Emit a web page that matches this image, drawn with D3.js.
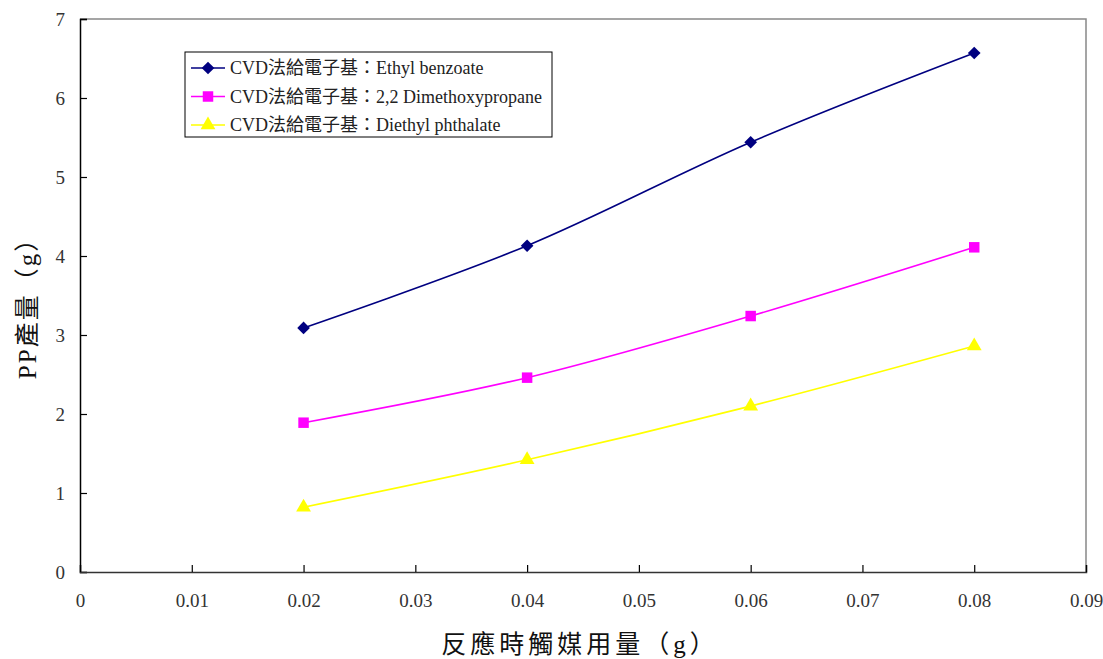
<!DOCTYPE html>
<html>
<head>
<meta charset="utf-8">
<script src="https://d3js.org/d3.v7.min.js"></script>
<style>
  html, body { margin: 0; padding: 0; background: #fff; }
  svg { display: block; }
  .serif { font-family: "Liberation Serif", "DejaVu Serif", "Noto Sans CJK TC", serif; }
</style>
</head>
<body>
<svg id="chart" width="1103" height="659"></svg>
<script>
// Catalyst amount (g)
const xValues = [0.02, 0.04, 0.06, 0.08];
// PP yield (g) for each electron donor
const ethylBenzoate = [3.09, 4.13, 5.44, 6.57];
const dimethoxypropane = [1.89, 2.46, 3.24, 4.11];
const diethylPhthalate = [0.82, 1.42, 2.10, 2.86];

const seriesNames = [
  "CVD法給電子基：Ethyl benzoate",
  "CVD法給電子基：2,2 Dimethoxypropane",
  "CVD法給電子基：Diethyl phthalate"
];
const xTicks = [0, 0.01, 0.02, 0.03, 0.04, 0.05, 0.06, 0.07, 0.08, 0.09];
const yTicks = [0, 1, 2, 3, 4, 5, 6, 7];
const xTitle = "反應時觸媒用量（g）";
const yTitle = "PP產量（g）";

const svg = d3.select("#chart");
const plotL = 80, plotR = 1086, plotT = 19, plotB = 572;

const x = d3.scaleLinear().domain([0, 0.09]).range([plotL, plotR]);
const y = d3.scaleLinear().domain([0, 7]).range([plotB, plotT]);

// Plot frame: grey top/right edges
svg.append("path")
  .attr("d", `M${plotL},${plotT}H${plotR}V${plotB}`)
  .attr("fill", "none").attr("stroke", "#888").attr("stroke-width", 1.5);

// Y axis with inward ticks
const yAxis = svg.append("g").attr("transform", `translate(${plotL},0)`)
  .call(d3.axisLeft(y).tickValues(yTicks).tickSize(-7).tickPadding(15).tickFormat(d3.format("d")));
yAxis.attr("font-family", null).attr("font-size", null);
yAxis.select(".domain").attr("stroke", "#000").attr("stroke-width", 1.5);
yAxis.selectAll(".tick line").attr("stroke", "#000").attr("stroke-width", 1.2);
yAxis.selectAll(".tick text").attr("class", "serif").style("font-size", "19px").attr("fill", "#333");

// X axis with inward ticks
const xAxis = svg.append("g").attr("transform", `translate(0,${plotB})`)
  .call(d3.axisBottom(x).tickValues(xTicks).tickSize(-7).tickPadding(22)
    .tickFormat(d => d === 0 ? "0" : d3.format(".2f")(d)));
xAxis.attr("font-family", null).attr("font-size", null);
xAxis.select(".domain").attr("stroke", "#333").attr("stroke-width", 1.5);
xAxis.selectAll(".tick line").attr("stroke", "#000").attr("stroke-width", 1.2);
xAxis.selectAll(".tick text").attr("class", "serif").style("font-size", "19px").attr("fill", "#333");

// Diamond drawn as a rotated square so it stays symmetric
const diamond = {
  draw(ctx, size) {
    const r = Math.sqrt(size / 2);
    ctx.moveTo(0, -r); ctx.lineTo(r, 0); ctx.lineTo(0, r); ctx.lineTo(-r, 0); ctx.closePath();
  }
};

// Series
const series = [
  { name: seriesNames[0], values: ethylBenzoate, color: "#000080", symbol: diamond, size: 80 },
  { name: seriesNames[1], values: dimethoxypropane, color: "#FF00FF", symbol: d3.symbolSquare, size: 110 },
  { name: seriesNames[2], values: diethylPhthalate, color: "#FFFF00", symbol: d3.symbolTriangle, size: 95 }
];

const line = d3.line()
  .x(d => x(d[0])).y(d => y(d[1]))
  .curve(d3.curveCardinal.tension(0));

series.forEach(s => {
  const pts = xValues.map((xv, i) => [xv, s.values[i]]);
  svg.append("path").datum(pts)
    .attr("d", line).attr("fill", "none")
    .attr("stroke", s.color).attr("stroke-width", 1.6);
  svg.append("g").selectAll("path").data(pts).join("path")
    .attr("transform", d => `translate(${x(d[0])},${y(d[1])})`)
    .attr("d", d3.symbol().type(s.symbol).size(s.size))
    .attr("fill", s.color);
});

// Legend
const lg = svg.append("g").attr("transform", "translate(185,52)");
lg.append("rect").attr("width", 367).attr("height", 85)
  .attr("fill", "#fff").attr("stroke", "#000").attr("stroke-width", 1);
series.forEach((s, i) => {
  const cy = 16 + i * 28.5;
  lg.append("line").attr("x1", 6).attr("x2", 40).attr("y1", cy).attr("y2", cy)
    .attr("stroke", s.color).attr("stroke-width", 1.6);
  lg.append("path").attr("transform", `translate(23,${cy})`)
    .attr("d", d3.symbol().type(s.symbol).size(s.size)).attr("fill", s.color);
  lg.append("text").attr("class", "serif").attr("x", 45).attr("y", cy).attr("dy", "0.35em")
    .style("font-size", "18px").attr("fill", "#222")
    .text(s.name);
});

// Axis titles
svg.append("text").attr("class", "serif").attr("x", 580).attr("y", 653).attr("text-anchor", "middle")
  .style("font-size", "25px").attr("fill", "#111")
  .attr("letter-spacing", 4).text(xTitle);
svg.append("text").attr("class", "serif").attr("transform", "translate(36,302) rotate(-90)")
  .attr("text-anchor", "middle")
  .style("font-size", "25px").attr("fill", "#111")
  .attr("letter-spacing", 2).text(yTitle);
</script>
</body>
</html>
